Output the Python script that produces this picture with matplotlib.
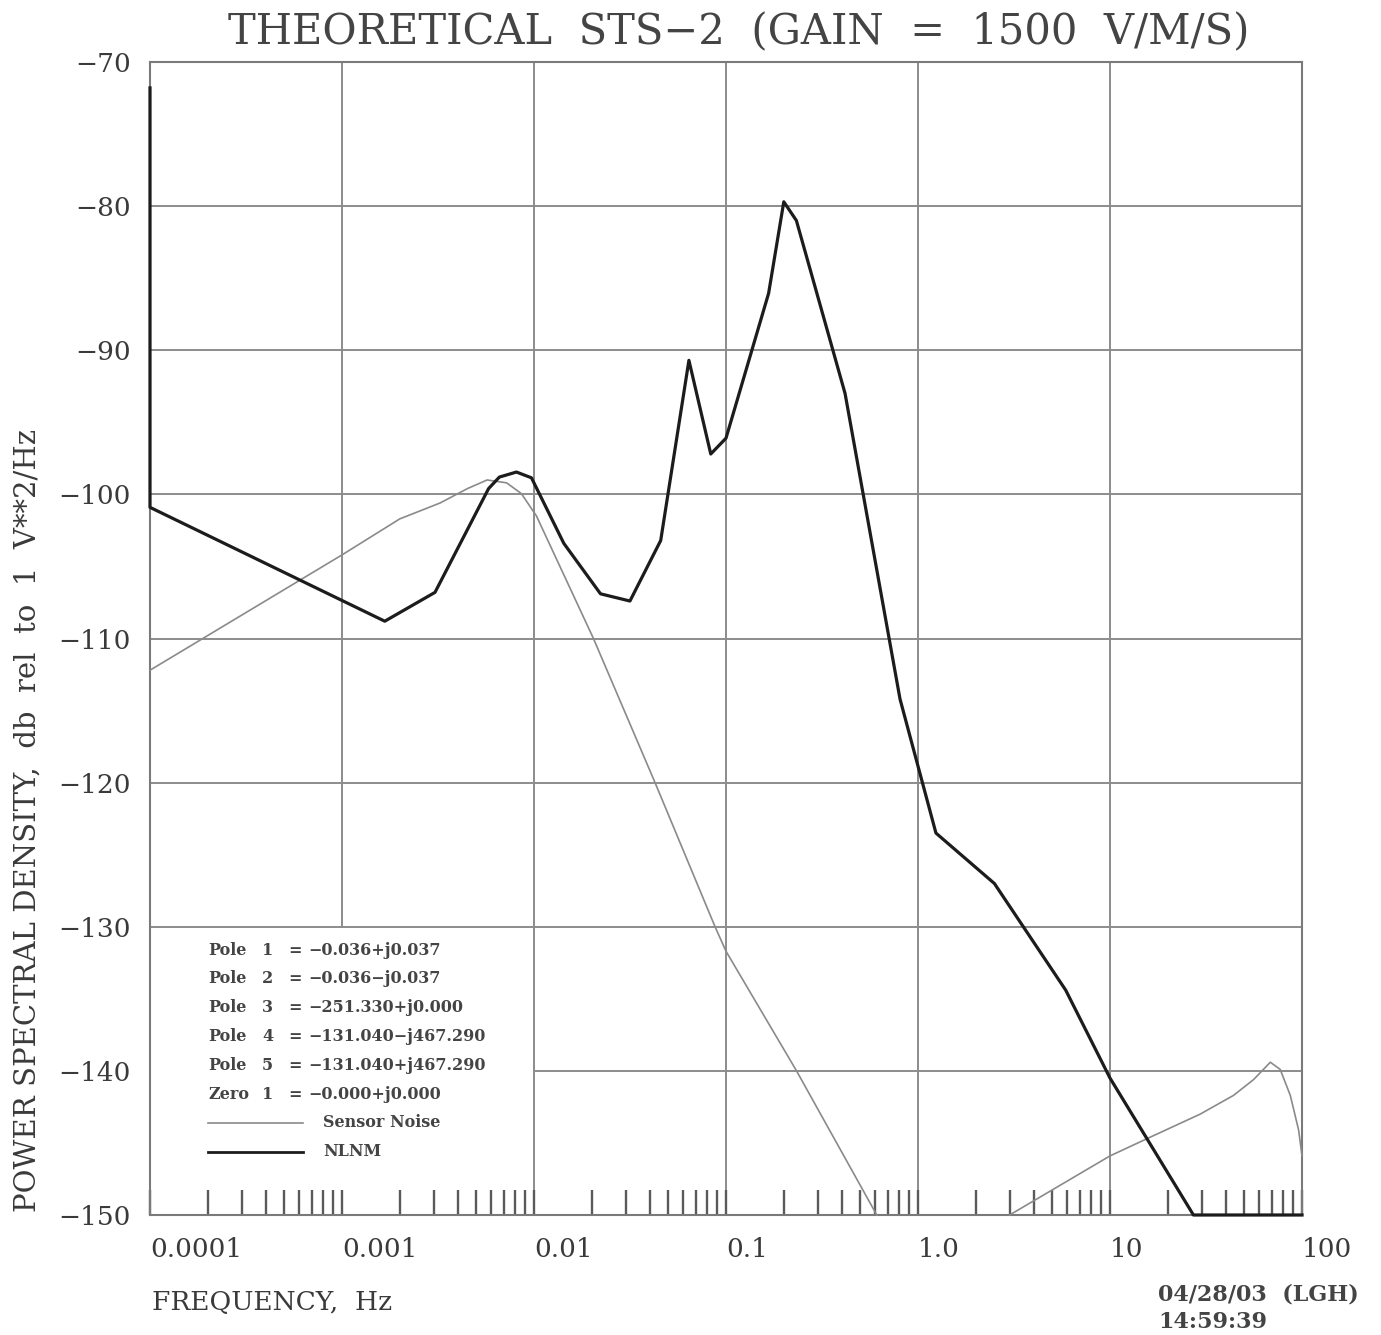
import numpy as np
import matplotlib
matplotlib.use("Agg")
import matplotlib.pyplot as plt
from matplotlib.ticker import LogLocator, NullFormatter

# NLNM converted to sensor output
nlnm_freq = [1e-4, 1e-4, 0.00167, 0.00305, 0.0058, 0.0066, 0.0081, 0.0097, 0.0143,
             0.0222, 0.0316, 0.0457, 0.0641, 0.0833, 0.1, 0.1667, 0.2, 0.2326,
             0.417, 0.806, 1.24, 2.5, 5.88, 10.0, 27.2, 100.0]
nlnm_db = [-71.8, -100.9, -108.8, -106.8, -99.6, -98.8, -98.45, -98.85, -103.4,
           -106.9, -107.4, -103.2, -90.7, -97.2, -96.1, -86.05, -79.7, -81.0,
           -93.0, -114.2, -123.5, -127.0, -134.4, -140.5, -150.0, -150.0]

# sensor self-noise, low and high frequency parts (it goes below -150 in between)
noise_low_freq = [1e-4, 1e-3, 0.002, 0.00324, 0.0045, 0.0057, 0.0072, 0.0086,
                  0.0103, 0.0204, 0.0427, 0.0877, 0.1, 0.233, 0.61]
noise_low_db = [-112.2, -104.2, -101.7, -100.6, -99.6, -99.0, -99.2, -99.95,
                -101.5, -110.0, -120.0, -130.0, -131.7, -140.0, -150.0]
noise_high_freq = [3.0, 10.0, 16.2, 29.5, 44.0, 56.0, 68.4, 77.0, 86.9, 96.0, 100.0]
noise_high_db = [-150.0, -145.9, -144.6, -143.0, -141.7, -140.6, -139.4, -139.9,
                 -141.7, -144.1, -145.9]

decades = [1e-4, 1e-3, 1e-2, 1e-1, 1.0, 10.0, 100.0]
decade_labels = ["0.0001", "0.001", "0.01", "0.1", "1.0", "10", "100"]
db_ticks = list(range(-150, -69, 10))

legend_lines = [
    ("Pole", "1", "\u22120.036+j0.037"),
    ("Pole", "2", "\u22120.036\u2212j0.037"),
    ("Pole", "3", "\u2212251.330+j0.000"),
    ("Pole", "4", "\u2212131.040\u2212j467.290"),
    ("Pole", "5", "\u2212131.040+j467.290"),
    ("Zero", "1", "\u22120.000+j0.000"),
]

plt.rcParams["font.family"] = ["DejaVu Serif"]
txt = "#3a3a3a"
gridc = "#8c8c8c"

fig = plt.figure(figsize=(13.81, 13.35), dpi=100)
ax = fig.add_axes([150 / 1381, 120 / 1335, 1152 / 1381, 1153 / 1335])
ax.set_xscale("log")
ax.set_xlim(1e-4, 100)
ax.set_ylim(-150, -70)

# grid: legend box covers the lower left corner
legend_right = (np.log10(1e-2) - np.log10(1e-4)) / 6
for f in decades[1:-1]:
    ax.axvline(f, ymin=0.25 if f < 1e-2 else 0, color=gridc, lw=1.4, zorder=1)
for y in db_ticks[1:-1]:
    ax.axhline(y, xmin=legend_right if y == -140 else 0, color=gridc, lw=1.4, zorder=1)

ax.plot(noise_low_freq + [np.nan] + noise_high_freq,
        noise_low_db + [np.nan] + noise_high_db,
        color="#8a8a8a", lw=1.2, zorder=3, clip_on=False)
ax.plot(nlnm_freq, nlnm_db, color="#1c1c1c", lw=2.3, zorder=4, clip_on=False)

for s in ax.spines.values():
    s.set_color("#7a7a7a")
    s.set_linewidth(1.5)

ax.set_xticks(decades)
ax.set_xticklabels(decade_labels)
for lbl in ax.get_xticklabels():
    lbl.set_horizontalalignment("left")
ax.xaxis.set_minor_locator(LogLocator(base=10, subs=np.arange(2, 10)))
ax.xaxis.set_minor_formatter(NullFormatter())
ax.tick_params(axis="x", which="both", direction="in", length=18, width=1.7,
               color="#5a5a5a", pad=16, labelsize=19, labelcolor=txt)
ax.set_yticks(db_ticks)
ax.tick_params(axis="y", length=0, pad=14, labelsize=19, labelcolor=txt)
for lbl in ax.get_yticklabels():
    lbl.set_verticalalignment("center_baseline")

# legend block
lx, ly, dy = 0.0503, 0.2298, 0.0250
for i, (kind, num, val) in enumerate(legend_lines):
    y = ly - i * dy
    ax.text(lx, y, kind, transform=ax.transAxes, fontsize=11.5, fontweight="bold",
            color="#444444", va="center")
    ax.text(lx + 0.047, y, num, transform=ax.transAxes, fontsize=11.5,
            fontweight="bold", color="#444444", va="center")
    ax.text(lx + 0.070, y, "=", transform=ax.transAxes, fontsize=11.5,
            fontweight="bold", color="#444444", va="center")
    ax.text(lx + 0.0875, y, val, transform=ax.transAxes, fontsize=11.5,
            fontweight="bold", color="#444444", va="center")
for j, (name, col, lw) in enumerate([("Sensor Noise", "#8a8a8a", 1.2),
                                     ("NLNM", "#1c1c1c", 2.0)]):
    y = ly - (6 + j) * dy
    ax.plot([lx, 0.1328], [y, y], transform=ax.transAxes, color=col, lw=lw)
    ax.text(0.150, y, name, transform=ax.transAxes, fontsize=11.5,
            fontweight="bold", color="#444444", va="center")

fig.text(0.535, 0.976, "THEORETICAL  STS\u22122  (GAIN  =  1500  V/M/S)",
         ha="center", va="center", fontsize=30, color="#444444")
fig.text(28 / 1381, 1 - 820 / 1335, "POWER SPECTRAL DENSITY,  db  rel  to  1  V**2/Hz",
         rotation=90, ha="center", va="center", fontsize=21, color=txt)
fig.text(152 / 1381, 1 - 1302 / 1335, "FREQUENCY,  Hz", ha="left", va="center",
         fontsize=19, color=txt)
fig.text(1158 / 1381, 1 - 1295 / 1335, "04/28/03  (LGH)", ha="left", va="center",
         fontsize=16, fontweight="bold", color="#444444")
fig.text(1158 / 1381, 1 - 1322 / 1335, "14:59:39", ha="left", va="center",
         fontsize=16, fontweight="bold", color="#444444")

fig.savefig("out.png", dpi=100, facecolor="white")
